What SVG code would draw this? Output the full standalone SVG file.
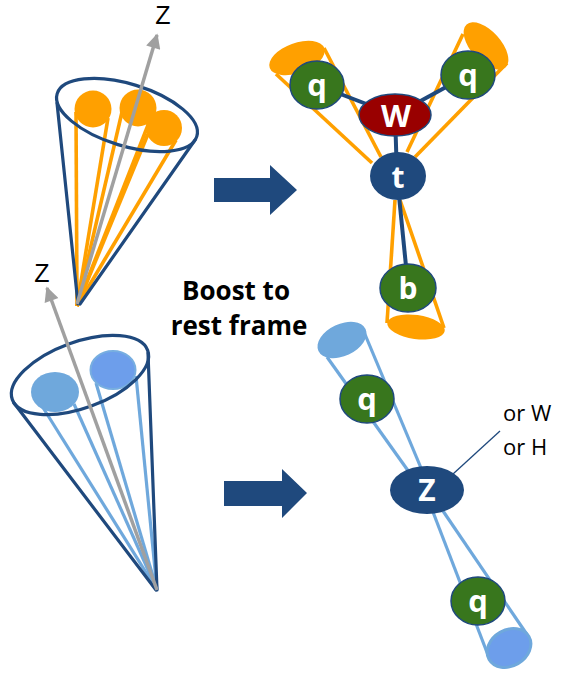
<svg xmlns="http://www.w3.org/2000/svg" width="561" height="675" viewBox="0 0 561 675">
  <defs>
    <marker id="axisHead" viewBox="0 0 10 10" refX="9" refY="5" markerWidth="4.6" markerHeight="4.2" orient="auto" markerUnits="strokeWidth">
      <path d="M0,0 L10,5 L0,10 Z" fill="#a0a0a0"/>
    </marker>
  </defs>
  <style>
    .cone { fill: none; stroke: #1f497d; stroke-width: 3.2; stroke-linecap: round; }
    .orange { stroke: #ffa000; stroke-width: 3.6; fill: none; }
    .orangeFill { fill: #ffa000; }
    .lblue { stroke: #6fa8dc; stroke-width: 3.2; fill: none; }
    .axis { stroke: #a0a0a0; stroke-width: 3.5; fill: none; }
    .link { stroke: #1f497d; stroke-width: 4; }
    .quark { fill: #38761d; stroke: #1f497d; stroke-width: 1.5; }
    .wbos { fill: #990000; stroke: #1f497d; stroke-width: 1.5; }
    .navy { fill: #1f497d; }
    .bigArrow { fill: #1f497d; }
    .nodeText { font-family: "Open Sans", "Liberation Sans", sans-serif; font-weight: bold; fill: #ffffff; text-anchor: middle; }
    .axisText { font-family: "Liberation Sans", sans-serif; font-size: 25px; fill: #000; text-anchor: middle; }
    .boost { font-family: "Open Sans", "Liberation Sans", sans-serif; font-weight: bold; font-size: 26px; fill: #000; text-anchor: middle; }
    .note { font-family: "Open Sans", "Liberation Sans", sans-serif; font-size: 22px; fill: #000; }
  </style>

  <!-- boosted top jet: cone with three subjets -->
  <g id="boosted-top-jet">
    <g class="orange">
      <line x1="77" y1="306" x2="76" y2="112"/>
      <line x1="77" y1="306" x2="108" y2="118"/>
      <line x1="77" y1="306" x2="122" y2="112"/>
      <line x1="77" y1="306" x2="150" y2="120"/>
      <line x1="77" y1="306" x2="148" y2="134"/>
      <line x1="77" y1="306" x2="176" y2="140"/>
    </g>
    <circle class="orangeFill" cx="93" cy="109" r="18.5"/>
    <circle class="orangeFill" cx="138" cy="108" r="18.5"/>
    <circle class="orangeFill" cx="164" cy="128" r="18"/>
    <line class="cone" x1="57" y1="103" x2="78" y2="304"/>
    <line class="cone" x1="195" y1="140" x2="80" y2="304"/>
    <ellipse class="cone" cx="127" cy="115" rx="73" ry="31" transform="rotate(17 127 115)"/>
  </g>

  <!-- boosted Z jet: cone with two subjets -->
  <g id="boosted-z-jet">
    <g class="lblue">
      <line x1="157" y1="590" x2="42" y2="406"/>
      <line x1="157" y1="590" x2="74" y2="404"/>
      <line x1="157" y1="590" x2="96" y2="383"/>
      <line x1="157" y1="590" x2="136" y2="376"/>
    </g>
    <ellipse cx="55" cy="392" rx="24" ry="20" fill="#6fa8dc"/>
    <ellipse cx="113" cy="370" rx="22.5" ry="19" fill="#6d9eeb" stroke="#77aee0" stroke-width="2"/>
    <line class="cone" x1="14" y1="403" x2="156" y2="590"/>
    <line class="cone" x1="148" y1="353" x2="157" y2="590"/>
    <ellipse class="cone" cx="80" cy="375" rx="72" ry="33" transform="rotate(-20 80 375)"/>
  </g>

  <!-- jet axes -->
  <g id="axes">
    <line class="axis" x1="77" y1="304" x2="157" y2="35" marker-end="url(#axisHead)"/>
    <text class="axisText" x="163" y="24">Z</text>
    <line class="axis" x1="157" y1="590" x2="47" y2="288" marker-end="url(#axisHead)"/>
    <text class="axisText" x="42" y="282">Z</text>
  </g>

  <!-- boost arrows and caption -->
  <g id="boost-arrow-top">
    <path class="bigArrow" d="M214,178 H270 V165 L297,190 L270,215 V202 H214 Z"/>
  </g>
  <g id="boost-arrow-bottom">
    <path class="bigArrow" d="M224,481 H282 V469 L307,493 L282,518 V506 H224 Z"/>
  </g>
  <g id="caption">
    <text class="boost" x="236" y="300">Boost to</text>
    <text class="boost" x="239" y="335">rest frame</text>
  </g>

  <!-- decay lines and jet cones in the rest frame -->
  <g id="connectors">
    <!-- top decay: orange subjet cones -->
    <line class="orange" x1="372" y1="163" x2="276" y2="74"/>
    <line class="orange" x1="381" y1="157" x2="324" y2="48"/>
    <ellipse class="orangeFill" cx="297" cy="58" rx="29" ry="15" transform="rotate(-20 297 58)"/>
    <line class="orange" x1="407" y1="152" x2="463" y2="34"/>
    <line class="orange" x1="415" y1="157" x2="507" y2="63"/>
    <ellipse class="orangeFill" cx="486" cy="46" rx="29" ry="15" transform="rotate(48 486 46)"/>
    <line class="orange" x1="395" y1="200" x2="387" y2="323"/>
    <line class="orange" x1="400" y1="200" x2="444" y2="328"/>
    <ellipse class="orangeFill" cx="416" cy="327" rx="29" ry="12" transform="rotate(8 416 327)"/>
    <!-- top decay chain -->
    <line class="link" x1="317" y1="85" x2="395" y2="115"/>
    <line class="link" x1="468" y1="75" x2="395" y2="115"/>
    <line class="link" x1="395" y1="115" x2="397" y2="176"/>
    <line class="link" x1="397" y1="176" x2="408" y2="286"/>
    <!-- Z decay: light-blue subjet cones -->
    <line class="lblue" x1="409" y1="472" x2="327" y2="357"/>
    <line class="lblue" x1="421" y1="468" x2="364" y2="332"/>
    <ellipse cx="342" cy="340" rx="26" ry="16" fill="#6fa8dc" transform="rotate(-25 342 340)"/>
    <line class="lblue" x1="433" y1="512" x2="488" y2="655"/>
    <line class="lblue" x1="443" y1="511" x2="528" y2="636"/>
    <ellipse cx="509" cy="648" rx="23" ry="18" fill="#6d9eeb" stroke="#6fa8dc" stroke-width="3" transform="rotate(-30 509 648)"/>
    <!-- leader for the alternative labels -->
    <line x1="500" y1="431" x2="453" y2="474" stroke="#1f497d" stroke-width="1.3"/>
  </g>

  <g id="node-q-left">
    <ellipse class="quark" cx="317" cy="85" rx="27" ry="24"/>
    <text class="nodeText" x="317" y="96" font-size="31">q</text>
  </g>
  <g id="node-q-right">
    <ellipse class="quark" cx="468" cy="75" rx="27" ry="24"/>
    <text class="nodeText" x="468" y="86" font-size="31">q</text>
  </g>
  <g id="node-W">
    <ellipse class="wbos" cx="395" cy="115" rx="36" ry="21"/>
    <text class="nodeText" x="396" y="127" font-size="31">W</text>
  </g>
  <g id="node-t">
    <ellipse class="navy" cx="398" cy="176" rx="28" ry="24"/>
    <text class="nodeText" x="398" y="188" font-size="30">t</text>
  </g>
  <g id="node-b">
    <ellipse class="quark" cx="408" cy="288" rx="28" ry="24"/>
    <text class="nodeText" x="408" y="299" font-size="30">b</text>
  </g>
  <g id="node-q-upper">
    <ellipse class="quark" cx="367" cy="399" rx="27" ry="24"/>
    <text class="nodeText" x="367" y="410" font-size="31">q</text>
  </g>
  <g id="node-Z">
    <ellipse class="navy" cx="427" cy="490" rx="37" ry="24"/>
    <text class="nodeText" x="427" y="501" font-size="30">Z</text>
  </g>
  <g id="node-q-lower">
    <ellipse class="quark" cx="478" cy="601" rx="27" ry="24"/>
    <text class="nodeText" x="478" y="612" font-size="31">q</text>
  </g>
  <g id="label-alternatives">
    <text class="note" x="503" y="421">or W</text>
    <text class="note" x="503" y="455">or H</text>
  </g>
</svg>
